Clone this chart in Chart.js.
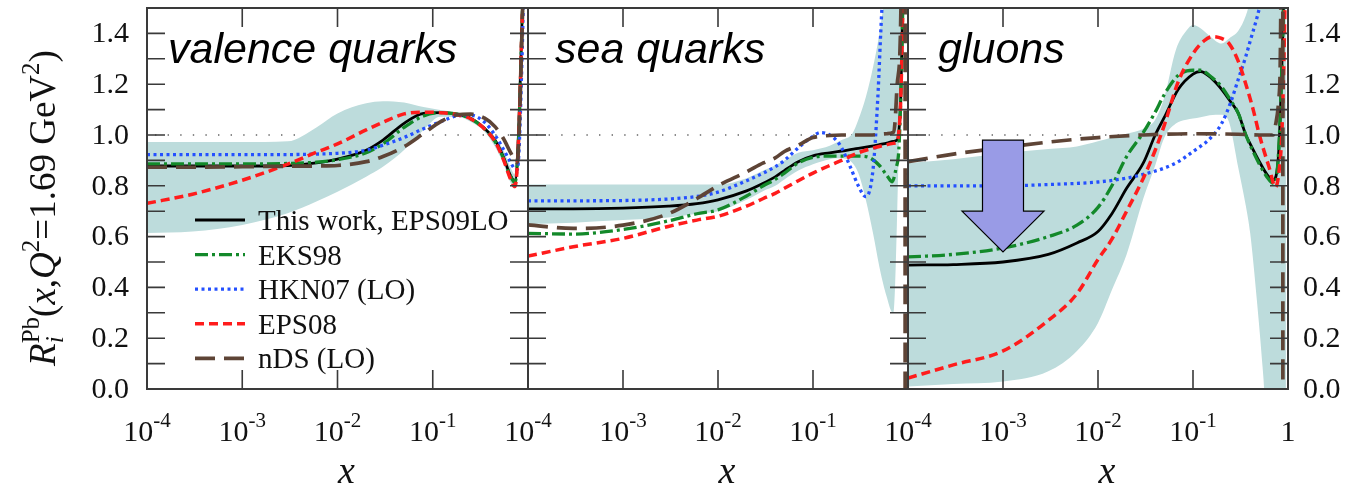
<!DOCTYPE html>
<html>
<head>
<meta charset="utf-8">
<title>Nuclear modifications for Pb</title>
<script src="https://cdn.jsdelivr.net/npm/chart.js@4.4.1/dist/chart.umd.min.js"></script>
<style>
  html, body { margin: 0; padding: 0; background: #fff; }
  #wrap { position: relative; width: 1354px; height: 488px; }
  #wrap canvas { position: absolute; left: 0; top: 0; }
</style>
</head>
<body>
<div id="wrap">
  <canvas id="cValence" width="1354" height="488"></canvas>
  <canvas id="cSea" width="1354" height="488"></canvas>
  <canvas id="cGluon" width="1354" height="488"></canvas>
</div>
<script>
// ---- axes ----
const xTickValues = [1e-4, 1e-3, 1e-2, 1e-1, 1];
const xTickBase = ['10', '10', '10', '10', '1'];
const xTickExp = ['-4', '-3', '-2', '-1', ''];
const yTickValues = [0.1, 0.2, 0.3, 0.4, 0.5, 0.6, 0.7, 0.8, 0.9, 1.0, 1.1, 1.2, 1.3, 1.4];
const yLabelValues = [0, 0.2, 0.4, 0.6, 0.8, 1.0, 1.2, 1.4];
const yLabelText = ['0.0', '0.2', '0.4', '0.6', '0.8', '1.0', '1.2', '1.4'];

// ---- valence quarks: [x, R] ----
const valEPS09 = [[1e-4,.878],[3e-4,.878],[1e-3,.878],[3e-3,.88],[.006,.89],[.01,.905],[.02,.94],[.03,.98],[.05,1.046],[.08,1.085],[.12,1.088],[.18,1.082],[.25,1.066],[.35,1.026],[.45,.98],[.55,.915],[.65,.843],[.73,.818],[.8,1.03],[.85,1.35],[.9,1.7],[.95,2.4]];
const valEKS98 = [[1e-4,.886],[3e-4,.886],[1e-3,.886],[3e-3,.888],[.006,.893],[.01,.903],[.02,.93],[.03,.965],[.05,1.03],[.08,1.075],[.12,1.088],[.18,1.082],[.25,1.064],[.35,1.024],[.45,.975],[.55,.91],[.65,.84],[.73,.813],[.8,1.0],[.85,1.33],[.9,1.7],[.95,2.4]];
const valHKN07 = [[1e-4,.923],[3e-4,.923],[1e-3,.923],[3e-3,.923],[.006,.925],[.01,.928],[.02,.94],[.03,.96],[.05,.99],[.08,1.025],[.12,1.052],[.18,1.075],[.25,1.078],[.35,1.05],[.45,1.0],[.55,.945],[.65,.895],[.73,.865],[.77,.862],[.8,.92],[.85,1.2],[.9,1.6],[.95,2.3]];
const valEPS08 = [[1e-4,.731],[3e-4,.767],[1e-3,.822],[3e-3,.885],[.006,.932],[.01,.965],[.02,1.02],[.03,1.05],[.05,1.083],[.08,1.09],[.12,1.088],[.18,1.08],[.25,1.064],[.35,1.024],[.45,.975],[.55,.905],[.65,.83],[.73,.797],[.8,1.0],[.85,1.33],[.9,1.7],[.95,2.4]];
const valNDS = [[1e-4,.873],[3e-4,.873],[1e-3,.875],[3e-3,.877],[.006,.878],[.01,.88],[.02,.895],[.03,.915],[.05,.954],[.08,1.006],[.12,1.052],[.18,1.079],[.25,1.082],[.35,1.066],[.45,1.033],[.55,.987],[.65,.934],[.73,.9],[.77,.89],[.8,.98],[.85,1.3],[.9,1.7],[.95,2.4]];
const valLow = [[1e-4,.614],[3e-4,.62],[1e-3,.646],[3e-3,.692],[.006,.738],[.01,.777],[.02,.836],[.03,.875],[.05,.941],[.08,1.02],[.12,1.072],[.18,1.072],[.25,1.052],[.35,1.013],[.45,.954],[.55,.888],[.65,.816],[.73,.79],[.8,.95],[.85,1.25],[.9,1.65],[.95,2.3]];
const valHigh = [[1e-4,.972],[3e-4,.972],[1e-3,.972],[3e-3,.975],[.006,1.03],[.01,1.085],[.02,1.125],[.03,1.133],[.05,1.128],[.08,1.11],[.12,1.098],[.18,1.088],[.25,1.072],[.35,1.033],[.45,.987],[.55,.941],[.65,.875],[.73,.845],[.8,1.12],[.85,1.5],[.9,2.0],[.95,2.6]];

// ---- sea quarks ----
const seaEPS09 = [[1e-4,.709],[3e-4,.709],[1e-3,.712],[3e-3,.72],[.006,.73],[.01,.745],[.02,.78],[.03,.81],[.04,.835],[.05,.86],[.07,.895],[.1,.918],[.15,.93],[.2,.937],[.3,.947],[.4,.955],[.5,.962],[.6,.968],[.7,.975],[.77,.98],[.8,1.01],[.84,1.15],[.88,1.5],[.93,2.2]];
const seaEKS98 = [[1e-4,.613],[3e-4,.61],[1e-3,.628],[3e-3,.662],[.006,.69],[.01,.705],[.02,.76],[.03,.80],[.04,.825],[.05,.85],[.07,.89],[.1,.912],[.15,.917],[.25,.917],[.36,.915],[.5,.88],[.6,.84],[.68,.816],[.75,.87],[.8,.94],[.84,1.15],[.88,1.5],[.93,2.2]];
const seaHKN07 = [[1e-4,.741],[3e-4,.741],[1e-3,.742],[3e-3,.748],[.006,.758],[.01,.775],[.02,.82],[.03,.85],[.04,.875],[.05,.9],[.07,.95],[.1,.995],[.12,1.01],[.15,1.0],[.18,.975],[.2,.95],[.25,.87],[.3,.8],[.36,.757],[.43,.87],[.48,1.14],[.53,1.49],[.6,1.8]];
const seaEPS08 = [[1e-4,.523],[3e-4,.56],[1e-3,.593],[3e-3,.64],[.006,.665],[.01,.68],[.02,.72],[.03,.75],[.04,.77],[.05,.79],[.07,.82],[.1,.85],[.15,.88],[.2,.90],[.3,.93],[.4,.945],[.5,.955],[.6,.962],[.7,.967],[.77,.975],[.8,1.01],[.84,1.15],[.88,1.5],[.93,2.2]];
const seaNDS = [[1e-4,.646],[3e-4,.632],[1e-3,.645],[3e-3,.69],[.006,.75],[.01,.80],[.02,.855],[.03,.89],[.04,.91],[.05,.935],[.07,.96],[.1,.99],[.15,.998],[.2,1.0],[.4,1.0],[.6,1.005],[.7,1.01],[.73,1.05],[.77,1.2],[.84,1.47],[.9,3],[.93,6],[.935,-6]];
const seaBandX = [1e-4,3e-4,1e-3,3e-3,.006,.01,.02,.03,.04,.05,.07,.1,.15,.2,.26,.3,.36,.43,.5,.56,.6,.66,.7,.73,.77,.8,.85,.9,.95];
const seaLow = [.65,.655,.665,.675,.69,.70,.745,.78,.80,.825,.86,.885,.905,.908,.89,.85,.744,.61,.48,.40,.36,.31,.30,.40,.7,.95,1.3,1.8,2.2];
const seaHigh = [.805,.805,.805,.805,.805,.805,.83,.86,.88,.90,.93,.94,.958,.98,1.006,1.06,1.15,1.27,1.4,1.53,1.62,1.75,1.85,1.9,2.0,2.0,2.1,2.2,2.3];

// ---- gluons ----
const gluEPS09 = [[1e-4,.488],[3e-4,.49],[1e-3,.50],[3e-3,.53],[.006,.575],[.01,.62],[.014,.69],[.02,.79],[.03,.89],[.04,1.0],[.05,1.07],[.07,1.18],[.1,1.24],[.12,1.25],[.16,1.22],[.2,1.18],[.25,1.13],[.3,1.085],[.36,1.0],[.4,.965],[.5,.895],[.6,.845],[.7,.823],[.75,.84],[.8,.94],[.85,1.2],[.9,1.55],[.95,2.2]];
const gluEKS98 = [[1e-4,.52],[3e-4,.53],[1e-3,.555],[3e-3,.60],[.006,.645],[.01,.715],[.014,.80],[.02,.915],[.03,1.01],[.04,1.09],[.05,1.16],[.07,1.235],[.1,1.255],[.12,1.255],[.16,1.225],[.2,1.19],[.25,1.135],[.3,1.085],[.36,1.0],[.4,.96],[.5,.885],[.6,.835],[.7,.81],[.75,.825],[.8,.95],[.85,1.2],[.9,1.55],[.95,2.2]];
const gluHKN07 = [[1e-4,.80],[3e-4,.80],[1e-3,.80],[3e-3,.805],[.01,.815],[.02,.83],[.03,.845],[.05,.87],[.07,.895],[.1,.935],[.15,.985],[.2,1.045],[.25,1.13],[.3,1.22],[.36,1.31],[.4,1.37],[.5,1.5],[.6,1.65],[.8,2]];
const gluEPS08 = [[1e-4,.043],[3e-4,.095],[1e-3,.15],[3e-3,.27],[.006,.375],[.01,.51],[.014,.59],[.02,.70],[.03,.83],[.04,.94],[.05,1.04],[.07,1.21],[.1,1.32],[.13,1.37],[.16,1.387],[.2,1.38],[.24,1.36],[.3,1.29],[.36,1.2],[.43,1.1],[.5,1.0],[.63,.875],[.74,.795],[.8,.85],[.86,1.0],[.9,1.25],[.95,1.7]];
const gluNDS = [[1e-4,.895],[3e-4,.925],[1e-3,.95],[3e-3,.972],[.01,.99],[.03,1.0],[.1,1.005],[.3,1.003],[.5,1.0],[.7,1.0],[.74,1.04],[.8,1.14],[.84,1.5],[.86,3],[.88,6],[.885,-6]];
const gluBandX = [1e-4,3e-4,1e-3,3e-3,.006,.01,.014,.02,.03,.04,.05,.066,.085,.1,.12,.15,.2,.24,.3,.36,.4,.47,.54,.56,.6,.7,.8,.95];
const gluLow = [.01,.02,.03,.07,.15,.26,.39,.53,.75,.88,.99,1.045,1.06,1.065,1.07,1.078,1.08,1.05,.87,.72,.613,.35,.087,0,-.3,-1,-1,-1];
const gluHigh = [.89,.905,.928,.945,.955,.975,.99,1.005,1.025,1.06,1.15,1.335,1.41,1.433,1.42,1.39,1.36,1.38,1.41,1.47,1.53,1.65,1.8,1.85,1.9,2,2,2];

const serif = '"Liberation Serif", "Times New Roman", serif';
const sans = '"Liberation Sans", Arial, sans-serif';
const bandColor = '#bddcdc';

// line styles shared by all panels, in legend order
const styles = [
  {label: 'This work, EPS09LO', borderColor: '#000000', borderWidth: 2.8, borderDash: [], order: 5},
  {label: 'EKS98', borderColor: '#13892a', borderWidth: 3.3, borderDash: [13, 4, 3, 4], order: 4},
  {label: 'HKN07 (LO)', borderColor: '#2450ff', borderWidth: 3.3, borderDash: [3, 3.5], order: 3},
  {label: 'EPS08', borderColor: '#ff1c1c', borderWidth: 3.5, borderDash: [9, 5], order: 2},
  {label: 'nDS (LO)', borderColor: '#5e4436', borderWidth: 3.7, borderDash: [20, 9], order: 1}
];

function toPoints(pairs) {
  return pairs.map(function(p) { return {x: p[0], y: p[1]}; });
}
function zipPoints(xs, ys) {
  return xs.map(function(x, i) { return {x: x, y: ys[i]}; });
}

function drawArrow(ctx, xs, ys, a) {
  const cx = xs.getPixelForValue(a.x);
  const top = ys.getPixelForValue(a.top);
  const neck = ys.getPixelForValue(a.neck);
  const tip = ys.getPixelForValue(a.tip);
  ctx.beginPath();
  ctx.moveTo(cx - a.shaft, top);
  ctx.lineTo(cx + a.shaft, top);
  ctx.lineTo(cx + a.shaft, neck);
  ctx.lineTo(cx + a.head, neck);
  ctx.lineTo(cx, tip);
  ctx.lineTo(cx - a.head, neck);
  ctx.lineTo(cx - a.shaft, neck);
  ctx.closePath();
  ctx.fillStyle = '#999be6';
  ctx.fill();
  ctx.strokeStyle = '#000';
  ctx.lineWidth = 1.2;
  ctx.stroke();
}

// R_i^Pb(x,Q^2=1.69 GeV^2), written bottom to top
function drawYTitle(ctx, bx, cy) {
  const big = '37px ' + serif, bigI = 'italic 37px ' + serif;
  const sm = '25px ' + serif, smI = 'italic 25px ' + serif;
  const groups = [
    [{t: 'R', f: bigI, dy: 0}],
    [{t: 'Pb', f: sm, dy: -16}, {t: 'i', f: smI, dy: 8}],
    [{t: '(', f: big, dy: 0}],
    [{t: 'x', f: bigI, dy: 0}],
    [{t: ',', f: big, dy: 0}],
    [{t: 'Q', f: bigI, dy: 0}],
    [{t: '2', f: sm, dy: -16}],
    [{t: '=1.69 GeV', f: big, dy: 0}],
    [{t: '2', f: sm, dy: -16}],
    [{t: ')', f: big, dy: 0}]
  ];
  const adv = groups.map(function(g) {
    return Math.max.apply(null, g.map(function(r) { ctx.font = r.f; return ctx.measureText(r.t).width; }));
  });
  const total = adv.reduce(function(s, w) { return s + w; }, 0);
  ctx.save();
  ctx.translate(bx, cy);
  ctx.rotate(-Math.PI / 2);
  ctx.textAlign = 'left';
  ctx.textBaseline = 'alphabetic';
  let pos = -total / 2;
  groups.forEach(function(g, i) {
    g.forEach(function(r) { ctx.font = r.f; ctx.fillText(r.t, pos, r.dy); });
    pos += adv[i];
  });
  ctx.restore();
}

const decor = {
  id: 'decor',
  beforeDatasetsDraw(chart) {
    // dotted line at R = 1, under the band
    const ctx = chart.ctx, a = chart.chartArea;
    const py = chart.scales.y.getPixelForValue(1);
    ctx.save();
    ctx.strokeStyle = '#666';
    ctx.lineWidth = 1.4;
    ctx.setLineDash([1.4, 11.2]);
    ctx.beginPath();
    ctx.moveTo(a.left + 8, py);
    ctx.lineTo(a.right, py);
    ctx.stroke();
    ctx.restore();
  },
  afterDatasetsDraw(chart, args, o) {
    const ctx = chart.ctx, a = chart.chartArea;
    const x = chart.scales.x, y = chart.scales.y;
    ctx.save();
    if (o.arrow) drawArrow(ctx, x, y, o.arrow);

    // frame with inward ticks on all four sides
    ctx.strokeStyle = '#3a3a3a';
    ctx.lineWidth = 1.6;
    ctx.beginPath();
    yTickValues.forEach(function(v) {
      const py = y.getPixelForValue(v);
      ctx.moveTo(a.left, py); ctx.lineTo(a.left + 18, py);
      ctx.moveTo(a.right, py); ctx.lineTo(a.right - 18, py);
    });
    xTickValues.slice(1, 4).forEach(function(v) {
      const px = x.getPixelForValue(v);
      ctx.moveTo(px, a.bottom); ctx.lineTo(px, a.bottom - 19);
      ctx.moveTo(px, a.top); ctx.lineTo(px, a.top + 19);
    });
    ctx.stroke();
    ctx.lineWidth = 2;
    ctx.strokeRect(a.left, a.top, a.right - a.left, a.bottom - a.top);

    // x tick labels, 10 with raised exponent
    ctx.fillStyle = '#111';
    ctx.textAlign = 'left';
    ctx.textBaseline = 'alphabetic';
    for (let i = 0; i < o.xLabelCount; i++) {
      const px = x.getPixelForValue(xTickValues[i]);
      ctx.font = '30px ' + serif;
      const wb = ctx.measureText(xTickBase[i]).width;
      ctx.font = '21px ' + serif;
      const we = ctx.measureText(xTickExp[i]).width;
      const sx = px - (wb + we) / 2;
      ctx.font = '30px ' + serif;
      ctx.fillText(xTickBase[i], sx, a.bottom + 52);
      ctx.font = '21px ' + serif;
      ctx.fillText(xTickExp[i], sx + wb, a.bottom + 38);
    }

    // y tick labels
    if (o.yLabels) {
      ctx.font = '30px ' + serif;
      ctx.textBaseline = 'middle';
      ctx.textAlign = o.yLabels === 'left' ? 'right' : 'left';
      const lx = o.yLabels === 'left' ? a.left - 18 : a.right + 15;
      yLabelValues.forEach(function(v, i) {
        ctx.fillText(yLabelText[i], lx, y.getPixelForValue(v) + 1);
      });
    }

    // axis title x
    ctx.font = 'italic 38px ' + serif;
    ctx.textAlign = 'center';
    ctx.textBaseline = 'alphabetic';
    ctx.fillText('x', (a.left + a.right) / 2 + 9, a.bottom + 94);

    // panel title
    ctx.fillStyle = '#000';
    ctx.font = 'italic 43px ' + sans;
    ctx.textAlign = 'left';
    ctx.fillText(o.title, a.left + o.titleDx, a.top + 55);

    if (o.legend) {
      let row = 0;
      chart.data.datasets.forEach(function(ds) {
        if (!ds.label) return;
        const cy = a.top + 212 + row * 34.6;
        ctx.save();
        ctx.strokeStyle = ds.borderColor;
        ctx.lineWidth = ds.borderWidth;
        ctx.setLineDash(ds.borderDash);
        ctx.beginPath();
        ctx.moveTo(a.left + 48, cy);
        ctx.lineTo(a.left + 98, cy);
        ctx.stroke();
        ctx.restore();
        ctx.fillStyle = '#111';
        ctx.font = '29px ' + serif;
        ctx.textAlign = 'left';
        ctx.textBaseline = 'alphabetic';
        ctx.fillText(ds.label, a.left + 111, cy + 10);
        row++;
      });
    }

    if (o.yTitle) {
      ctx.fillStyle = '#111';
      drawYTitle(ctx, 55, 208);
    }
    ctx.restore();
  }
};

const panels = [
  {id: 'cValence', pad: {left: 147, right: 826}, curves: [valEPS09, valEKS98, valHKN07, valEPS08, valNDS],
   low: toPoints(valLow), high: toPoints(valHigh),
   opts: {title: 'valence quarks', titleDx: 21, xLabelCount: 4, yLabels: 'left', legend: true, yTitle: true}},
  {id: 'cSea', pad: {left: 528, right: 446}, curves: [seaEPS09, seaEKS98, seaHKN07, seaEPS08, seaNDS],
   low: zipPoints(seaBandX, seaLow), high: zipPoints(seaBandX, seaHigh),
   opts: {title: 'sea quarks', titleDx: 27, xLabelCount: 4}},
  {id: 'cGluon', pad: {left: 908, right: 66}, curves: [gluEPS09, gluEKS98, gluHKN07, gluEPS08, gluNDS],
   low: zipPoints(gluBandX, gluLow), high: zipPoints(gluBandX, gluHigh),
   opts: {title: 'gluons', titleDx: 30, xLabelCount: 5, yLabels: 'right',
          arrow: {x: 1e-3, top: 0.98, neck: 0.70, tip: 0.54, shaft: 20.5, head: 41}}}
];

panels.forEach(function(p) {
  const datasets = [
    {data: p.low, borderWidth: 0, pointRadius: 0, fill: false, order: 6, cubicInterpolationMode: 'monotone'},
    {data: p.high, borderWidth: 0, pointRadius: 0, fill: '-1', backgroundColor: bandColor, order: 6, cubicInterpolationMode: 'monotone'}
  ];
  p.curves.forEach(function(c, i) {
    datasets.push(Object.assign({
      data: toPoints(c),
      pointRadius: 0,
      fill: false,
      borderCapStyle: 'butt',
      cubicInterpolationMode: 'monotone',
      clip: {left: 0, top: 0, right: 4, bottom: 0}
    }, styles[i]));
  });

  new Chart(document.getElementById(p.id), {
    type: 'line',
    data: {datasets: datasets},
    options: {
      responsive: false,
      animation: false,
      events: [],
      layout: {padding: {left: p.pad.left, right: p.pad.right, top: 8, bottom: 99}},
      scales: {
        x: {type: 'logarithmic', min: 1e-4, max: 1, display: false},
        y: {type: 'linear', min: 0, max: 1.5, display: false}
      },
      plugins: {
        legend: {display: false},
        tooltip: {enabled: false},
        decor: p.opts
      }
    },
    plugins: [decor]
  });
});
</script>
</body>
</html>
